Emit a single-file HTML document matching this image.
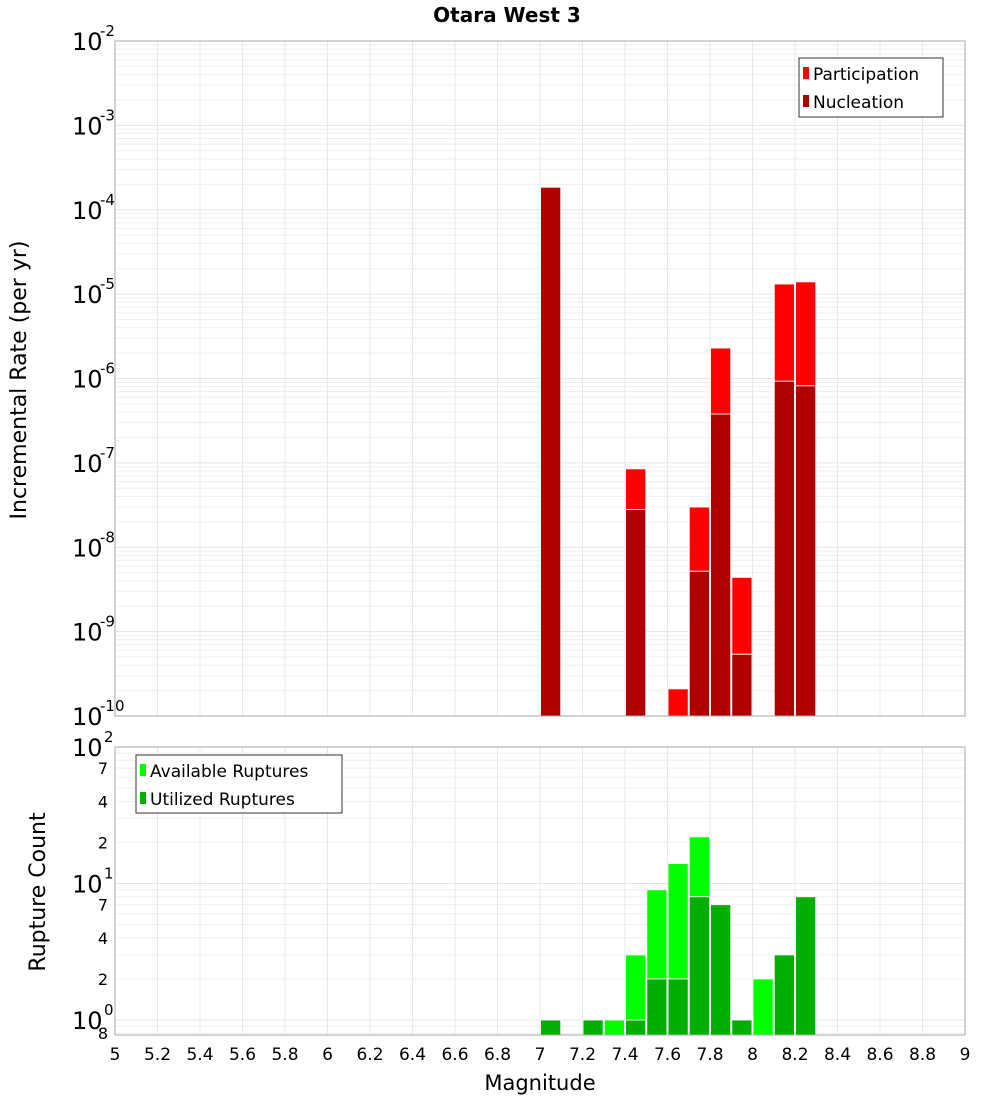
<!DOCTYPE html>
<html><head><meta charset="utf-8"><style>
body{margin:0;background:#fff;}
svg text{font-family:"DejaVu Sans","Liberation Sans",sans-serif;}
</style></head><body>
<svg id="c" width="1000" height="1100" xmlns="http://www.w3.org/2000/svg">
<text x="507" y="22" text-anchor="middle" font-size="20" font-weight="bold">Otara West 3</text>
<text transform="translate(26,380) rotate(-90)" text-anchor="middle" font-size="22">Incremental Rate (per yr)</text>
<text transform="translate(45,892) rotate(-90)" text-anchor="middle" font-size="22">Rupture Count</text>
<text x="540" y="1090" text-anchor="middle" font-size="21">Magnitude</text>
<g id="gtop"></g><g id="gbot"></g>
<g>
<rect x="799" y="58" width="144" height="59" fill="#fff" stroke="#333"/>
<rect x="803" y="67" width="6" height="12" fill="#ff0000"/>
<text x="813" y="80" font-size="17">Participation</text>
<rect x="803" y="95" width="6" height="12" fill="#b20000"/>
<text x="813" y="108" font-size="17">Nucleation</text>
</g>
<g>
<rect x="136" y="755" width="206" height="58" fill="#fff" stroke="#333"/>
<rect x="140" y="764" width="6" height="12" fill="#00ff00"/>
<text x="150" y="777" font-size="17">Available Ruptures</text>
<rect x="140" y="792" width="6" height="12" fill="#00b000"/>
<text x="150" y="805" font-size="17">Utilized Ruptures</text>
</g>
</svg>
<script>
const mags=[7.05,7.45,7.65,7.75,7.85,7.95,8.15,8.25];
const participation=[1.85e-4,8.5e-8,2.1e-10,3.0e-8,2.3e-6,4.4e-9,1.32e-5,1.4e-5];
const nucleation=[1.85e-4,2.8e-8,0,5.2e-9,3.8e-7,5.4e-10,9.3e-7,8.2e-7];
const countMags=[7.05,7.25,7.35,7.45,7.55,7.65,7.75,7.85,7.95,8.05,8.15,8.25];
const available=[1,1,1,3,9,14,22,7,1,2,3,8];
const utilized=[1,1,0,1,2,2,8,7,1,0,3,8];
const xTicks=[5,5.2,5.4,5.6,5.8,6,6.2,6.4,6.6,6.8,7,7.2,7.4,7.6,7.8,8,8.2,8.4,8.6,8.8,9];
const NS="http://www.w3.org/2000/svg";
const X0=115,X1=965;
const xs=m=>X0+(m-5)/4*(X1-X0);
const T0=41,T1=716;const ty=v=>T0+(-2-Math.log10(v))/8*(T1-T0);
const B0=747,B1=1035,BL=-0.11;const by=v=>B0+(2-Math.log10(v))/(2-BL)*(B1-B0);
function el(p,t,a){const e=document.createElementNS(NS,t);for(const k in a)e.setAttribute(k,a[k]);p.appendChild(e);return e;}
const gTop=document.getElementById('gtop'),gBot=document.getElementById('gbot');
function grid(g,y0,y1,yf,lo,hi){
  for(let d=lo;d<hi;d++)for(let k=1;k<10;k++){const v=k*Math.pow(10,d);const y=yf(v);if(y<y0-0.5||y>y1+0.5)continue;
    el(g,'line',{x1:X0,x2:X1,y1:y,y2:y,stroke:k==1?'#e4e4e4':'#efefef','stroke-width':1});}
  xTicks.forEach(t=>el(g,'line',{x1:xs(t),x2:xs(t),y1:y0,y2:y1,stroke:'#e8e8e8'}));
}
grid(gTop,T0,T1,ty,-10,-1);
grid(gBot,B0,B1,by,-1,2);
function bar(g,m,v,yf,base,fill,name){
  if(!v)return;const y=yf(v);
  const r=el(g,'rect',{x:xs(m-0.05)+0.5,y:y,width:xs(m+0.05)-xs(m-0.05)-1,height:base-y,fill:fill,stroke:'#f4f4f4','stroke-width':1});
  
  
}
mags.forEach((m,i)=>{bar(gTop,m,participation[i],ty,T1,'#ff0000','participation-bar');bar(gTop,m,nucleation[i],ty,T1,'#b20000','nucleation-bar');});
countMags.forEach((m,i)=>{bar(gBot,m,available[i],by,B1,'#00ff00','available-bar');bar(gBot,m,utilized[i],by,B1,'#00b000','utilized-bar');});
el(gTop,'rect',{x:X0,y:T0,width:X1-X0,height:T1-T0,fill:'none',stroke:'#aaa'});
el(gBot,'rect',{x:X0,y:B0,width:X1-X0,height:B1-B0,fill:'none',stroke:'#aaa'});
for(let d=-10;d<=-2;d++){const y=ty(Math.pow(10,d));
  const t=el(gTop,'text',{x:72,y:y+9,'font-size':24});t.textContent='10';
  
  const s=el(gTop,'text',{x:100,y:y-5,'font-size':15});s.textContent=String(d);}
[[100,'2'],[10,'1'],[1,'0']].forEach(([v,e])=>{const y=by(v);
  const t=el(gBot,'text',{x:72,y:y+9,'font-size':24});t.textContent='10';
  
  const s=el(gBot,'text',{x:104,y:y-5,'font-size':15});s.textContent=e;});
[70,40,20,7,4,2,0.8].forEach(v=>{const y=by(v);const t=el(gBot,'text',{x:108,y:y+6,'font-size':16,'text-anchor':'end'});
  t.textContent=String(v<1?8:String(v)[0]);
  });
xTicks.forEach(m=>{const t=el(gBot,'text',{x:xs(m),y:1060,'font-size':17,'text-anchor':'middle'});
  t.textContent=String(m);
  });
</script>
</body></html>
